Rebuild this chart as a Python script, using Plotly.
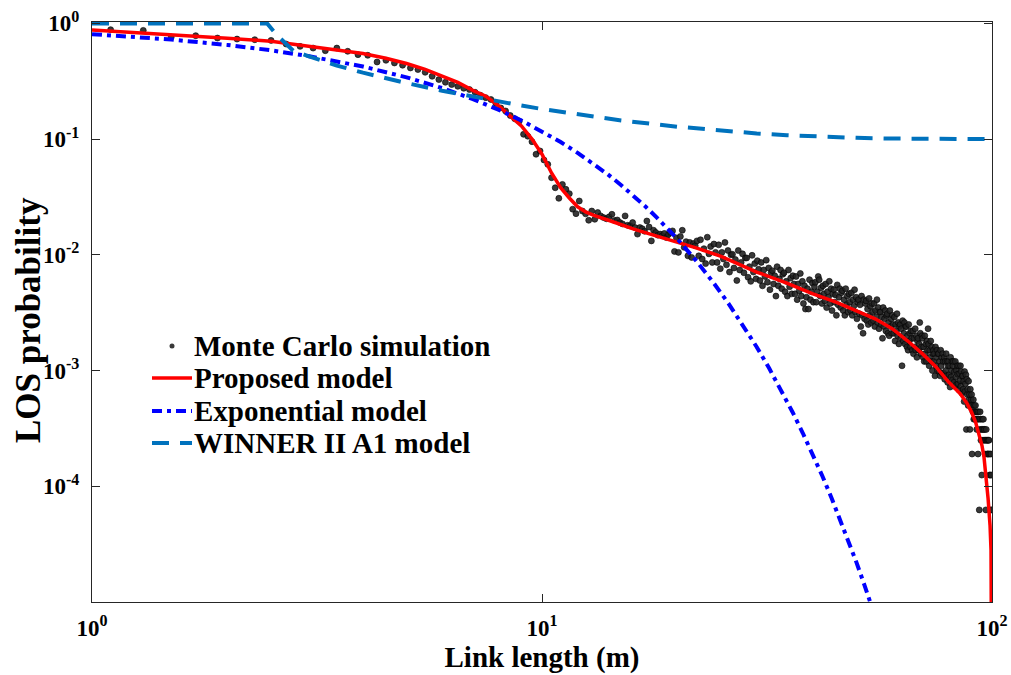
import numpy as np
import plotly.graph_objects as go

# ---------------- Monte Carlo simulation (link length grid step 0.2 m) ----------------
MC_STEP = 0.2

mc_near_start = 1.1
mc_near_p = [0.882, 0.870, 0.762, 0.783, 0.747, 0.732, 0.723, 0.713,
             0.663, 0.633, 0.612, 0.581, 0.612, 0.574, 0.537, 0.530, 0.464, 0.480,
             0.455, 0.435, 0.412, 0.399, 0.378, 0.349, 0.327, 0.310, 0.296, 0.286,
             0.275, 0.268, 0.254, 0.239, 0.228, 0.220, 0.203, 0.186]

mc_knee_start = 8.3
mc_knee_p = [0.175, 0.160, 0.150, 0.143, 0.110, 0.106, 0.095, 0.074, 0.079, 0.066,
             0.0605, 0.0464, 0.038, 0.0308, 0.0406, 0.0368, 0.0338, 0.0248, 0.0227, 0.0292,
             0.0239, 0.0226, 0.0199, 0.0239, 0.0203, 0.0232, 0.0217, 0.0210, 0.0205, 0.0213,
             0.0224, 0.0198, 0.0200, 0.0190, 0.0185, 0.0217, 0.0180, 0.0178, 0.0190, 0.0172,
             0.0151, 0.0172, 0.0168, 0.0160, 0.0196, 0.0174, 0.0132, 0.0163, 0.0156, 0.0148,
             0.0151, 0.0146, 0.0153, 0.0141, 0.0150, 0.0156, 0.0161, 0.0107, 0.0140, 0.0105,
             0.0144, 0.0163, 0.0116, 0.0130, 0.0098, 0.0128, 0.0095, 0.0125, 0.0120, 0.0132,
             0.0098]

mc_mid_start = 22.5
mc_mid_p = [0.0135, 0.0092, 0.0113, 0.0084, 0.0142, 0.0102, 0.0118, 0.0086, 0.0124, 0.0105,
            0.0086, 0.0122, 0.0076, 0.0105, 0.0092, 0.0128, 0.0082, 0.0109, 0.0071, 0.0100,
            0.0101, 0.0077, 0.0091, 0.0060, 0.0109, 0.0074, 0.0086, 0.0102, 0.0070, 0.0094,
            0.0094, 0.0064, 0.0079, 0.0059, 0.0099, 0.0071, 0.0084, 0.0062, 0.0089, 0.0075,
            0.0060, 0.0086, 0.0054, 0.0074, 0.0065, 0.0090, 0.0058, 0.0077, 0.0050, 0.0070,
            0.0073, 0.0056, 0.0066, 0.0044, 0.0079, 0.0054, 0.0062, 0.0074, 0.0051, 0.0068,
            0.0070, 0.0048, 0.0059, 0.0044, 0.0074, 0.0053, 0.0063, 0.0046, 0.0066, 0.0056,
            0.0046, 0.0065, 0.0041, 0.0056, 0.0049, 0.0069, 0.0044, 0.0059, 0.0038, 0.0054,
            0.0034, 0.0043, 0.0051, 0.0034, 0.0061, 0.0041, 0.0048, 0.0057, 0.0039, 0.0053,
            0.0058, 0.0039, 0.0048, 0.0065, 0.0061, 0.0044, 0.0052, 0.0038, 0.0054, 0.0046,
            0.0040, 0.0056, 0.0035, 0.0048, 0.0043, 0.0059, 0.0038, 0.0051, 0.0033, 0.0046,
            0.0050, 0.0039, 0.0045, 0.0030, 0.0055, 0.0037, 0.0043, 0.0051, 0.0035, 0.0047,
            0.0049, 0.0033, 0.0041, 0.0030, 0.0051, 0.0037, 0.0044, 0.0032, 0.0046, 0.0039,
            0.0033, 0.0047, 0.0030, 0.0041, 0.0036, 0.0050, 0.0032, 0.0043, 0.0028, 0.0039,
            0.0041, 0.0031, 0.0037, 0.0024, 0.0044, 0.0030, 0.0021, 0.0041, 0.0028, 0.0038,
            0.0040, 0.0027, 0.0034, 0.0025, 0.0042, 0.0030, 0.0036, 0.0026, 0.0038, 0.0032,
            0.0027, 0.0038, 0.0024, 0.0033, 0.0029, 0.0041, 0.0026, 0.0035, 0.0023, 0.0032,
            0.0032, 0.0025, 0.0029, 0.0019, 0.0035, 0.0024, 0.0028, 0.0033, 0.0022, 0.0030,
            0.0031, 0.0021, 0.0026, 0.0020, 0.0033, 0.0024, 0.0028, 0.0021, 0.0030, 0.0025,
            0.0021, 0.0029, 0.0018, 0.0025, 0.0022, 0.0031, 0.0020, 0.0026, 0.0017, 0.0024,
            0.0025, 0.0019, 0.0023, 0.0011, 0.0027, 0.0018, 0.0021, 0.0026, 0.0017, 0.0024,
            0.0024, 0.0016, 0.0020, 0.0015, 0.0025, 0.0018, 0.0021, 0.0016, 0.0022, 0.0019,
            0.0015, 0.0022, 0.0014, 0.0019, 0.0016, 0.0023, 0.0015, 0.0020, 0.0013, 0.0018,
            0.0019, 0.0015, 0.0017, 0.0026, 0.0021, 0.0014, 0.0016, 0.0020]

mc_tail_start = 70.1
mc_tail_p = [0.0019, 0.0013, 0.0016, 0.0012, 0.0020, 0.0014, 0.0017, 0.0012, 0.0018, 0.0015,
             0.0023, 0.0017, 0.0011, 0.0015, 0.0013, 0.0018, 0.0012, 0.0016, 0.0010, 0.0014,
             0.0015, 0.0012, 0.0014, 0.00090, 0.0016, 0.0011, 0.0013, 0.0015, 0.0010, 0.0014,
             0.0014, 0.00098, 0.0012, 0.00090, 0.0015, 0.0011, 0.0013, 0.00094, 0.0014, 0.0012,
             0.00095, 0.0013, 0.00084, 0.0012, 0.0010, 0.0014, 0.00090, 0.0012, 0.00079, 0.0011,
             0.0012, 0.00092, 0.0011, 0.00072, 0.0013, 0.00088, 0.0010, 0.0012, 0.00083, 0.0011,
             0.0012, 0.00079, 0.00098, 0.00073, 0.0012, 0.00088, 0.0010, 0.00076, 0.0011, 0.00093,
             0.00077, 0.0011, 0.00068, 0.00094, 0.00082, 0.0011, 0.00073, 0.00098, 0.00064, 0.00089,
             0.00090, 0.00069, 0.00081, 0.00054, 0.00098, 0.00066, 0.00077, 0.00092, 0.00031, 0.00084,
             0.00062, 0.00069, 0.00050, 0.00081, 0.00056, 0.00062, 0.00031, 0.00069, 0.00050, 0.00056,
             0.00062, 0.00019, 0.00050, 0.00044, 0.00056, 0.00038, 0.00050, 0.00044, 0.00038, 0.00050,
             0.00044, 0.00038, 0.00031, 0.00044, 0.00038, 0.00019, 0.00044, 0.00038, 0.0000625, 0.00031,
             0.00044, 0.00038, 0.00025, 0.00031, 0.000125, 0.00038, 0.00031, 0.00025, 0.00038, 0.00031,
             0.00025, 0.00031, 0.00019, 0.00025, 0.0000625, 0.00031, 0.00025, 0.00019, 0.00025, 0.00019,
             0.00025, 0.00019, 0.00025, 0.000125, 0.00019, 0.000125, 0.0000625, 0.00019, 0.000125, 0.0000625]

# ---------------- Model curves ----------------
proposed_d = [1.0, 1.5, 2.0, 2.5, 3.0, 3.5, 4.0, 4.5, 5.0, 5.5,
              6.0, 6.5, 7.0, 7.5, 8.0, 8.5, 9.0, 9.5, 10.0, 10.5,
              11.0, 11.5, 12.0, 12.5, 13.0, 14.0, 15.0, 16.0, 18.0, 20.0,
              22.0, 25.0, 28.0, 30.0, 35.0, 40.0, 45.0, 50.0, 55.0, 60.0,
              65.0, 70.0, 75.0, 80.0, 85.0, 88.0, 90.0, 92.0, 94.0, 95.0,
              96.0, 97.0, 98.0, 99.0, 99.5, 99.85]
proposed_p = [0.875, 0.80, 0.745, 0.70, 0.638, 0.595, 0.55, 0.50, 0.45, 0.40,
              0.35, 0.31, 0.265, 0.235, 0.195, 0.158, 0.13, 0.10, 0.074, 0.051,
              0.038, 0.031, 0.026, 0.0235, 0.022, 0.0200, 0.0182, 0.0167, 0.0145, 0.0128,
              0.0115, 0.0097, 0.0080, 0.0071, 0.0057, 0.0046, 0.0039, 0.0033, 0.0028, 0.0023,
              0.0018, 0.0014, 0.00108, 0.00080, 0.00063, 0.00052, 0.00044, 0.000356, 0.00027, 0.000225,
              0.000178, 0.000127, 0.000079, 0.000046, 0.000028, 0.000001]

exp_d = [1, 1.5, 2, 2.5, 3, 3.5, 4,
         5, 6, 7, 8, 9, 10, 11, 12, 13, 14, 15, 16, 17, 18, 19, 20,
         22, 24, 26, 28, 30, 32, 34, 36, 38, 40, 42, 44, 46, 48, 50, 52, 54, 56]
exp_p = [0.807, 0.725, 0.651, 0.585, 0.525, 0.472, 0.424,
         0.342, 0.276, 0.2227, 0.1797, 0.1450, 0.1170, 0.0944, 0.0761, 0.0614, 0.0496,
         0.0400, 0.0323, 0.0260, 0.0210, 0.01696, 0.01368,
         0.00891, 0.00580, 0.00377, 0.00246, 0.00160, 0.00104, 0.000678, 0.000441,
         0.000287, 0.000187, 0.000122, 7.93e-5, 5.16e-5, 3.36e-5, 2.19e-5, 1.42e-5,
         9.28e-6, 6.04e-6]

winner_d = [1, 2.45, 2.57, 2.8, 3, 3.5, 4, 4.5, 5, 6,
            7, 8, 9, 10, 12, 15, 20, 25, 30, 35,
            40, 50, 60, 70, 80, 90, 100]
winner_p = [1, 1, 0.80, 0.58, 0.527, 0.432, 0.375, 0.335, 0.305, 0.262,
            0.233, 0.211, 0.195, 0.182, 0.163, 0.145, 0.128, 0.118, 0.112, 0.108,
            0.1055, 0.1025, 0.1011, 0.1004, 0.1002, 0.10005, 0.1]

series_names = ["Monte Carlo simulation", "Proposed model", "Exponential model", "WINNER II A1 model"]

# ---------------- Axis ticks ----------------
x_tickvals = [1, 10, 100]
x_ticktext = ["10<sup>0</sup>", "10<sup>1</sup>", "10<sup>2</sup>"]
y_tickvals = [1, 1e-1, 1e-2, 1e-3, 1e-4]
y_ticktext = ["10<sup>0</sup>", "10<sup>-1</sup>", "10<sup>-2</sup>",
              "10<sup>-3</sup>", "10<sup>-4</sup>"]


def grid(start, values):
    return np.round(start + MC_STEP * np.arange(len(values)), 1)


mc_d = np.concatenate([grid(mc_near_start, mc_near_p), grid(mc_knee_start, mc_knee_p),
                       grid(mc_mid_start, mc_mid_p), grid(mc_tail_start, mc_tail_p)])
mc_p = np.concatenate([mc_near_p, mc_knee_p, mc_mid_p, mc_tail_p])

FONT = "Liberation Serif"
W, H = 1011, 675
M_L, M_R, M_T, M_B = 92, 19, 22, 73
PLOT_W, PLOT_H = W - M_L - M_R, H - M_T - M_B

MC_STYLE = dict(size=6, color="rgba(35,35,35,0.9)", line=dict(width=0.6, color="black"))
PROPOSED_LINE = dict(color="#FF0000", width=3.5)
EXP_LINE = dict(color="#0000FF", width=4, dash="10px,5px,4px,5px")
WINNER_LINE = dict(color="#0072BD", width=4, dash="17px,11px")

fig = go.Figure()
fig.add_trace(go.Scatter(x=mc_d, y=mc_p, mode="markers", name=series_names[0], marker=MC_STYLE))
fig.add_trace(go.Scatter(x=proposed_d, y=proposed_p, mode="lines", name=series_names[1], line=PROPOSED_LINE))
fig.add_trace(go.Scatter(x=exp_d, y=exp_p, mode="lines", name=series_names[2], line=EXP_LINE))
fig.add_trace(go.Scatter(x=winner_d, y=winner_p, mode="lines", name=series_names[3], line=WINNER_LINE))


# ---------------- Legend and y title (placed in paper space) ----------------
def px(x):
    return (x - M_L) / PLOT_W


def py(y):
    return (H - M_B - y) / PLOT_H


legend_rows_y = [346, 378, 411, 443]
sample_x0, sample_x1, text_x = 152, 192, 192

annotations = []
shapes = []
for name, row_y in zip(series_names, legend_rows_y):
    annotations.append(dict(
        x=px(text_x), y=py(row_y), xref="paper", yref="paper", text=name,
        xanchor="left", yanchor="middle", showarrow=False,
        font=dict(family=FONT, size=29, color="black", weight="bold"),
    ))

annotations.append(dict(
    x=px(28), y=py(320), xref="paper", yref="paper", text="LOS probability",
    textangle=-90, xanchor="center", yanchor="middle", showarrow=False,
    font=dict(family=FONT, size=35, color="black", weight="bold"),
))

# dot for the simulation entry
shapes.append(dict(type="circle", xref="paper", yref="paper",
                   x0=px(169.5), x1=px(174.5), y0=py(legend_rows_y[0] - 2.5), y1=py(legend_rows_y[0] + 2.5),
                   fillcolor="rgba(35,35,35,0.9)", line=dict(width=0)))
for row_y, style in zip(legend_rows_y[1:], [PROPOSED_LINE, EXP_LINE, WINNER_LINE]):
    shapes.append(dict(type="line", xref="paper", yref="paper",
                       x0=px(sample_x0), x1=px(sample_x1), y0=py(row_y), y1=py(row_y),
                       line=style))

axis_common = dict(
    type="log", showgrid=False, zeroline=False, showline=True, linecolor="#262626",
    linewidth=1, mirror="ticks", ticks="inside", ticklen=8, tickcolor="#262626",
    automargin=False,
    tickfont=dict(family=FONT, size=23, color="black", weight="bold"),
)

fig.update_layout(
    width=W, height=H,
    margin=dict(l=M_L, r=M_R, t=M_T, b=M_B, autoexpand=False),
    paper_bgcolor="white", plot_bgcolor="white",
    font=dict(family=FONT, color="black"),
    showlegend=False,
    annotations=annotations,
    shapes=shapes,
    xaxis=dict(
        range=[0, 2], tickvals=x_tickvals, ticktext=x_ticktext,
        ticklabelstandoff=5,
        title=dict(text="Link length (m)", standoff=7,
                   font=dict(family=FONT, size=29, color="black", weight="bold")),
        **axis_common,
    ),
    yaxis=dict(
        range=[-5, 0.012], tickvals=y_tickvals, ticktext=y_ticktext,
        ticklabelstandoff=7,
        **axis_common,
    ),
)

fig.write_html("out.html")
